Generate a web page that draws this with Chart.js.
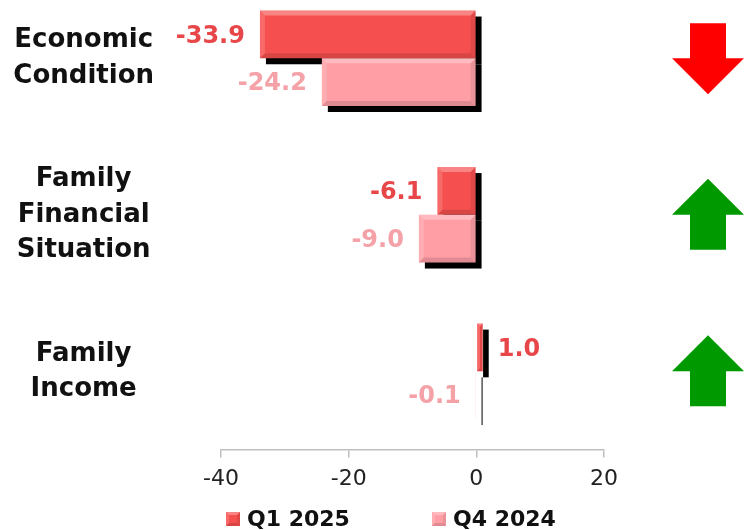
<!DOCTYPE html>
<html>
<head>
<meta charset="utf-8">
<script src="https://cdn.jsdelivr.net/npm/chart.js@4.4.1/dist/chart.umd.min.js"></script>
<style>
    html, body { margin: 0; padding: 0; background: #fff; overflow: hidden; }
    #wrap { position: absolute; left: 0; top: -20px; width: 744px; height: 550px; }
</style>
</head>
<body>
<div id="wrap"><canvas id="chart"></canvas></div>
<script>
// Data
const categories = [['Economic', 'Condition'], ['Family', 'Financial', 'Situation'], ['Family', 'Income']];
const seriesNames = ['Q1 2025', 'Q4 2024'];
const q1Values = [-33.9, -6.1, 1.0];
const q4Values = [-24.2, -9.0, -0.1];
const xTicks = [-40, -20, 0, 20];

const barColors = ['#F5504F', '#FF9EA5'];
const labelColors = ['#E8474A', '#F4A1A7'];
const FONT = '"DejaVu Sans", sans-serif';

function bevel(ctx, l, t, r, b, k) {
    k = Math.min(k, (r - l) / 2, (b - t) / 2);
    if (k <= 0) return;
    const parts = [
        [[l, t], [r, t], [r - k, t + k], [l + k, t + k], 'rgba(255,255,255,0.3)'],
        [[l, t], [l + k, t + k], [l + k, b - k], [l, b], 'rgba(255,255,255,0.15)'],
        [[l, b], [l + k, b - k], [r - k, b - k], [r, b], 'rgba(0,0,0,0.12)'],
        [[r, t], [r, b], [r - k, b - k], [r - k, t + k], 'rgba(0,0,0,0.08)']
    ];
    parts.forEach(p => {
        ctx.beginPath();
        ctx.moveTo(p[0][0], p[0][1]);
        for (let i = 1; i < 4; i++) ctx.lineTo(p[i][0], p[i][1]);
        ctx.closePath();
        ctx.fillStyle = p[4];
        ctx.fill();
    });
}

function barRect(bar) {
    const p = bar.getProps(['x', 'y', 'base', 'height'], true);
    return {
        l: Math.min(p.x, p.base), r: Math.max(p.x, p.base),
        t: p.y - p.height / 2, b: p.y + p.height / 2,
        x: p.x, y: p.y
    };
}

// shadow behind bars + bevel + value labels
const barDecor = {
    id: 'barDecor',
    beforeDatasetsDraw(chart) {
        const ctx = chart.ctx;
        ctx.save();
        ctx.fillStyle = '#000';
        chart.data.datasets.forEach((ds, di) => {
            chart.getDatasetMeta(di).data.forEach(bar => {
                const r = barRect(bar);
                ctx.fillRect(r.l + 6, r.t + 6, Math.max(r.r - r.l, 1), r.b - r.t);
            });
        });
        ctx.restore();
    },
    afterDatasetsDraw(chart) {
        const ctx = chart.ctx;
        ctx.save();
        chart.data.datasets.forEach((ds, di) => {
            const meta = chart.getDatasetMeta(di);
            meta.data.forEach((bar, i) => {
                const r = barRect(bar);
                bevel(ctx, r.l, r.t, r.r, r.b, 5);

                const v = ds.data[i];
                ctx.font = 'bold 24px ' + FONT;
                ctx.fillStyle = labelColors[di];
                ctx.textBaseline = 'middle';
                if (v < 0) {
                    ctx.textAlign = 'right';
                    ctx.fillText(v.toFixed(1), r.x - 15, r.y + 2);
                } else {
                    ctx.textAlign = 'left';
                    ctx.fillText(v.toFixed(1), r.x + 15, r.y + 2);
                }
            });
        });
        ctx.restore();
    },
    afterDraw(chart) {
        const ctx = chart.ctx;
        const area = chart.chartArea;
        const yScale = chart.scales.y;
        ctx.save();

        // arrows: up if Q1 improved on Q4
        categories.forEach((c, i) => {
            const cx = area.right + 104;
            const cy = yScale.getPixelForValue(i);
            const up = q1Values[i] > q4Values[i];
            const s = up ? -1 : 1;
            ctx.beginPath();
            ctx.moveTo(cx - 18, cy - s * 35);
            ctx.lineTo(cx + 18, cy - s * 35);
            ctx.lineTo(cx + 18, cy);
            ctx.lineTo(cx + 36, cy);
            ctx.lineTo(cx, cy + s * 36);
            ctx.lineTo(cx - 36, cy);
            ctx.lineTo(cx - 18, cy);
            ctx.closePath();
            ctx.fillStyle = up ? '#009900' : '#FF0000';
            ctx.fill();
        });

        // legend
        const ly = chart.height - 11;
        const starts = [226, 432];
        ctx.font = 'bold 22px ' + FONT;
        ctx.textBaseline = 'middle';
        ctx.textAlign = 'left';
        chart.data.datasets.forEach((ds, di) => {
            const x = starts[di];
            ctx.fillStyle = ds.backgroundColor;
            ctx.fillRect(x, ly - 7, 14, 14);
            bevel(ctx, x, ly - 7, x + 14, ly + 7, 3);
            ctx.fillStyle = '#111';
            ctx.fillText(ds.label, x + 21, ly + 1);
        });
        ctx.restore();
    }
};

const ctx = document.getElementById('chart').getContext('2d');

const chart = new Chart(ctx, {
    type: 'bar',
    data: {
        labels: categories,
        datasets: [{
            label: seriesNames[0],
            data: q1Values,
            backgroundColor: barColors[0],
            borderWidth: 0,
            categoryPercentage: 0.61,
            barPercentage: 1.0
        }, {
            label: seriesNames[1],
            data: q4Values,
            backgroundColor: barColors[1],
            borderWidth: 0,
            categoryPercentage: 0.61,
            barPercentage: 1.0
        }]
    },
    options: {
        indexAxis: 'y',
        responsive: true,
        maintainAspectRatio: false,
        animation: false,
        layout: {
            padding: { top: 0, right: 140, bottom: 30, left: 0 }
        },
        scales: {
            x: {
                min: xTicks[0],
                max: xTicks[xTicks.length - 1],
                afterBuildTicks: (scale) => {
                    scale.ticks = xTicks.map(v => ({ value: v }));
                },
                grid: {
                    drawOnChartArea: false,
                    drawTicks: true,
                    tickLength: 8,
                    color: '#BFBFBF',
                    lineWidth: 1.5
                },
                border: { color: '#BFBFBF', width: 1.5 },
                ticks: {
                    color: '#222',
                    font: { family: FONT, size: 22 },
                    padding: 8
                }
            },
            y: {
                afterFit: (scale) => {
                    scale.width = 221;
                    scale.paddingTop = 0;
                    scale.paddingBottom = 0;
                },
                grid: { display: false, drawTicks: false },
                border: { display: false },
                ticks: {
                    crossAlign: 'center',
                    padding: 67,
                    color: '#111',
                    font: { family: FONT, size: 26, weight: 'bold', lineHeight: 1.35 }
                }
            }
        },
        plugins: {
            legend: { display: false },
            tooltip: { enabled: false }
        }
    },
    plugins: [barDecor]
});
</script>
</body>
</html>
